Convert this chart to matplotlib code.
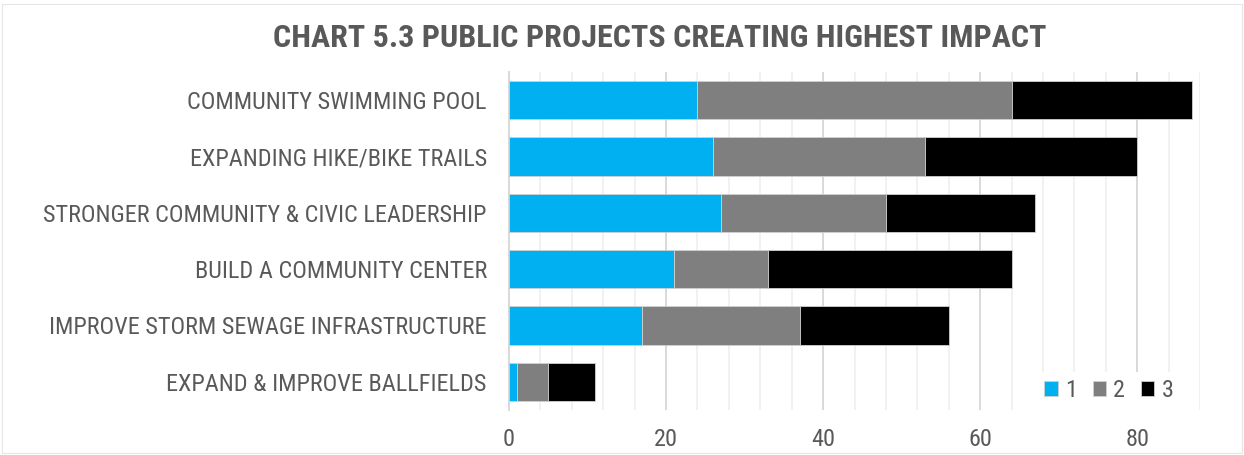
import matplotlib
matplotlib.use("Agg")
import matplotlib.pyplot as plt
from matplotlib.patches import Rectangle
import numpy as np

plt.rcParams['font.family'] = ['Roboto Condensed', 'Roboto', 'DejaVu Sans']

categories = [
    "COMMUNITY SWIMMING POOL",
    "EXPANDING HIKE/BIKE TRAILS",
    "STRONGER COMMUNITY & CIVIC LEADERSHIP",
    "BUILD A COMMUNITY CENTER",
    "IMPROVE STORM SEWAGE INFRASTRUCTURE",
    "EXPAND & IMPROVE BALLFIELDS",
]
rank1 = [24, 26, 27, 21, 17, 1]
rank2 = [40, 27, 21, 12, 20, 4]
rank3 = [23, 27, 19, 31, 19, 6]
series_names = ["1", "2", "3"]
colors = ["#00B0F0", "#7F7F7F", "#000000"]
text_color = "#595959"

fig = plt.figure(figsize=(12.44, 4.55), dpi=100)
fig.patches.append(Rectangle((0.002, 0.004), 0.996, 0.988, transform=fig.transFigure,
                             fill=False, edgecolor="#e6e6e6", linewidth=0.8))
ax = fig.add_axes([509 / 1244, 1 - 410 / 455, (1200 - 509) / 1244, (410 - 72) / 455])

y = np.arange(len(categories))
left = np.zeros(len(categories))
for vals, name, col in zip([rank1, rank2, rank3], series_names, colors):
    ax.barh(y, vals, left=left, height=0.68, color=col, label=name,
            edgecolor="#d0d0d0", linewidth=0.6, zorder=3)
    left = left + np.array(vals)

ax.set_ylim(len(categories) - 0.5, -0.5)
ax.set_xlim(0, 88)
ax.set_xticks([0, 20, 40, 60, 80])
ax.set_xticks(np.arange(0, 89, 4), minor=True)
ax.grid(axis="x", which="minor", color="#efefef", linewidth=1.2, zorder=0)
ax.grid(axis="x", which="major", color="#d9d9d9", linewidth=1.4, zorder=0)
ax.set_yticks(y)
ax.set_yticklabels(categories)
ax.tick_params(axis="both", which="both", length=0, labelcolor=text_color, labelsize=17.5)
ax.tick_params(axis="y", pad=16)
ax.tick_params(axis="x", pad=13)
for s in ["top", "right", "bottom"]:
    ax.spines[s].set_visible(False)
ax.spines["left"].set_color("#d9d9d9")
ax.spines["left"].set_linewidth(1.4)

leg = ax.legend(loc="lower right", bbox_to_anchor=(0.99, -0.035), ncol=3, frameon=True,
                fontsize=17.5, handlelength=0.55, handleheight=0.55, handletextpad=0.3,
                columnspacing=0.65, borderpad=0.3)
leg.get_frame().set_edgecolor("none")
leg.get_frame().set_facecolor("white")
leg.get_frame().set_alpha(1)
leg.set_zorder(5)
for t in leg.get_texts():
    t.set_color(text_color)

fig.text(0.53, 0.916, "CHART 5.3 PUBLIC PROJECTS CREATING HIGHEST IMPACT",
         ha="center", va="center", fontsize=23, fontweight="bold", color=text_color)

fig.savefig("out.png", dpi=100, facecolor="white")
